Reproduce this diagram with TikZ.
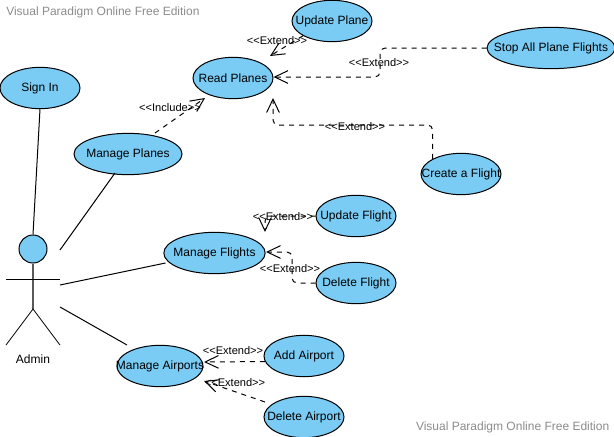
\documentclass[tikz,border=0pt]{standalone}
\usepackage{fontspec}
\setmainfont{Liberation Sans}
\usetikzlibrary{arrows.meta,shapes.geometric}
\definecolor{ucfill}{HTML}{7ACCF5}
\definecolor{wm}{HTML}{8C8C8C}
\newcommand{\uclabel}[1]{\makebox[0pt]{#1}}
\tikzset{
  uc/.style={ellipse,draw=black,line width=0.75pt,fill=ucfill,inner sep=0pt,minimum height=31pt,font=\fontsize{9}{10}\selectfont},
  lnk/.style={draw=black,line width=0.75pt},
  dep/.style={draw=black,line width=0.75pt,dash pattern=on 3.75pt off 3.75pt,rounded corners=3.75pt,-{Straight Barb[length=10pt,width=9.5pt,line width=0.75pt]}},
  lab/.style={font=\fontsize{8.3}{10}\selectfont,inner sep=0pt},
  water/.style={font=\fontsize{9}{10}\selectfont,text=wm,inner sep=0pt}
}
\begin{document}
\begin{tikzpicture}[x=0.75pt,y=-0.75pt]
\useasboundingbox[fill=white] (0,0) rectangle (614,436);
\node[water,anchor=west] (wm1) at (6,12) {Visual Paradigm Online Free Edition};
\node[water,anchor=east] (wm2) at (609.5,427) {Visual Paradigm Online Free Edition};

\node[uc,minimum width=60pt] (signin) at (40,88) {\uclabel{Sign In}};
\node[uc,minimum width=60pt] (upplane) at (332,21) {\uclabel{Update Plane}};
\node[uc,minimum width=60pt] (read) at (233,78) {\uclabel{Read Planes}};
\node[uc,minimum width=96pt] (stop) at (551,48) {\uclabel{Stop All Plane Flights}};
\node[uc,minimum width=81pt] (mplanes) at (128,154) {\uclabel{Manage Planes}};
\node[uc,minimum width=60pt] (create) at (461,174) {\uclabel{Create a Flight}};
\node[uc,minimum width=60pt] (upflight) at (356,216) {\uclabel{Update Flight}};
\node[uc,minimum width=76pt] (mflights) at (214.5,253) {\uclabel{Manage Flights}};
\node[uc,minimum width=60pt] (delflight) at (356,283) {\uclabel{Delete Flight}};
\node[uc,minimum width=64.5pt] (mairports) at (160,366) {\uclabel{Manage Airports}};
\node[uc,minimum width=60pt] (addair) at (304,356) {\uclabel{Add Airport}};
\node[uc,minimum width=60pt] (delair) at (304,417) {\uclabel{Delete Airport}};

% actor
\node[circle,draw=black,line width=0.75pt,fill=ucfill,inner sep=0pt,minimum size=21pt] (head) at (33,249) {};
\coordinate (hip) at (33,309);
\coordinate (armL) at (6,279);
\coordinate (armR) at (60,279);
\coordinate (legL) at (6,345);
\coordinate (legR) at (60,345);
\draw[line width=1.1pt,draw=black!65] (head.south) -- (hip);
\draw[line width=0.6pt] (armL) -- (armR);
\draw[line width=0.6pt] (legL) -- (hip) -- (legR);
\node[font=\fontsize{9}{10}\selectfont,inner sep=0pt] (admin) at (33,359) {Admin};

% associations
\coordinate (a1) at (60,250);
\coordinate (a2) at (60,285);
\coordinate (a3) at (60,307);
\coordinate (a4) at (127,345);
\draw[lnk] (signin.south) -- (head.north);
\draw[lnk] (mplanes) ++(-13,19) coordinate (a5) (a5) -- (a1);
\draw[lnk] (mflights) ++(-49,10) coordinate (a6) (a6) -- (a2);
\draw[lnk] (a4) -- (a3);

% dependencies
\coordinate (t1) at (270,56);
\coordinate (t2) at (273.5,77);
\coordinate (t3) at (273,98);
\coordinate (t4) at (205,98);
\coordinate (t5) at (265,232);
\coordinate (t6) at (266,252);
\coordinate (t7) at (204,362);
\coordinate (t8) at (204,381);
\draw[dep] (upplane.207) -- (t1);
\draw[dep] (stop.west) -| (380,77) -- (t2);
\draw[dep] (create.152) |- (273,125) -- (t3);
\draw[dep] (155,133) coordinate (s4) -- (t4);
\draw[dep] (upflight.west) -| (t5);
\draw[dep] (delflight.west) -| (292,252) -- (t6);
\draw[dep] (addair.188) -- (t7);
\draw[dep] (265,402) coordinate (s8) -- (t8);

% labels
\node[lab] (l1) at (277,41) {<{}<Extend>{}>};
\node[lab] (l2) at (379,63) {<{}<Extend>{}>};
\node[lab] (l3) at (355,127) {<{}<Extend>{}>};
\node[lab] (l4) at (170,108) {<{}<Include>{}>};
\node[lab] (l5) at (283,217) {<{}<Extend>{}>};
\node[lab] (l6) at (290,269) {<{}<Extend>{}>};
\node[lab] (l7) at (233,351) {<{}<Extend>{}>};
\node[lab] (l8) at (235,383) {<{}<Extend>{}>};
\end{tikzpicture}
\end{document}
